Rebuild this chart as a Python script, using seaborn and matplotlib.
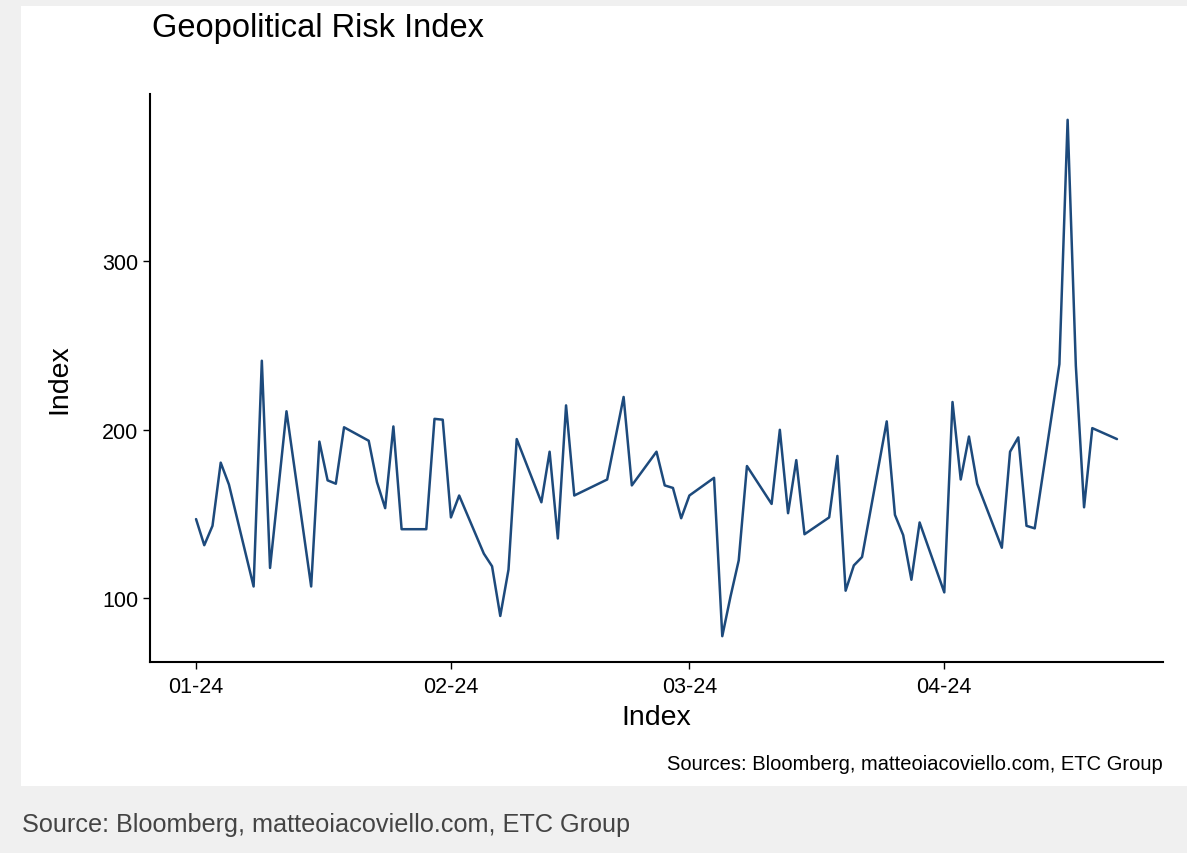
# Geopolitical Risk Index, daily, Jan-Apr 2024

import pandas as pd
import seaborn as sns
import matplotlib.pyplot as plt
import matplotlib.dates as mdates
from matplotlib.patches import Rectangle

# Data
dates = ['2024-01-01', '2024-01-02', '2024-01-03', '2024-01-04', '2024-01-05',
         '2024-01-08', '2024-01-09', '2024-01-10', '2024-01-12',
         '2024-01-15', '2024-01-16', '2024-01-17', '2024-01-18', '2024-01-19',
         '2024-01-22', '2024-01-23', '2024-01-24', '2024-01-25', '2024-01-26',
         '2024-01-29', '2024-01-30', '2024-01-31', '2024-02-01', '2024-02-02',
         '2024-02-05', '2024-02-06', '2024-02-07', '2024-02-08', '2024-02-09',
         '2024-02-12', '2024-02-13', '2024-02-14', '2024-02-15', '2024-02-16',
         '2024-02-20', '2024-02-22', '2024-02-23',
         '2024-02-26', '2024-02-27', '2024-02-28', '2024-02-29', '2024-03-01',
         '2024-03-04', '2024-03-05', '2024-03-06', '2024-03-07', '2024-03-08',
         '2024-03-11', '2024-03-12', '2024-03-13', '2024-03-14', '2024-03-15',
         '2024-03-18', '2024-03-19', '2024-03-20', '2024-03-21', '2024-03-22',
         '2024-03-25', '2024-03-26', '2024-03-27', '2024-03-28', '2024-03-29',
         '2024-04-01', '2024-04-02', '2024-04-03', '2024-04-04', '2024-04-05',
         '2024-04-08', '2024-04-09', '2024-04-10', '2024-04-11', '2024-04-12',
         '2024-04-15', '2024-04-16', '2024-04-17', '2024-04-18', '2024-04-19',
         '2024-04-22']
gpr = [147, 131.5, 143, 180.5, 167.5,
       107, 241, 118, 211,
       107, 193, 170, 168, 201.5,
       193.5, 169, 153.5, 202, 141,
       141, 206.5, 206, 148, 161,
       126.5, 119, 89.5, 117, 194.5,
       157, 187, 135.5, 214.5, 161,
       170.5, 219.5, 167,
       187, 167, 165.5, 147.5, 161,
       171.5, 77.5, 101, 122.5, 178.5,
       156, 200, 150.5, 182, 138,
       148, 184.5, 104.5, 119.5, 124.5,
       205, 149.5, 137.5, 111, 145,
       103.5, 216.5, 170.5, 196, 168,
       130, 187, 195.5, 143, 141.5,
       239, 384, 238, 154, 201,
       194.5]

title = 'Geopolitical Risk Index'
caption = 'Sources: Bloomberg, matteoiacoviello.com, ETC Group'
footer = 'Source: Bloomberg, matteoiacoviello.com, ETC Group'

df = pd.DataFrame({'date': pd.to_datetime(dates), 'gpr': gpr})

sns.set_style('ticks')
plt.rcParams['font.family'] = ['Liberation Sans', 'DejaVu Sans']
plt.rcParams['text.color'] = 'black'
plt.rcParams['axes.labelcolor'] = 'black'

W, H = 1187, 854
fig = plt.figure(figsize=(W / 100, H / 100), dpi=100, facecolor='#f0f0f0')

# white card behind the plot
card = Rectangle((21 / W, (H - 787) / H), 1 - 21 / W, 780 / H,
                 transform=fig.transFigure, facecolor='white',
                 edgecolor='none', zorder=0)
fig.add_artist(card)

ax = fig.add_axes([150 / W, (H - 663) / H, (1163 - 150) / W, (663 - 95) / H])
ax.set_zorder(2)
ax.set_facecolor('white')

sns.lineplot(data=df, x='date', y='gpr', ax=ax, color='#1d4a7c', linewidth=1.8)

# ggplot-like 5% expansion
span = df['date'].max() - df['date'].min()
ax.set_xlim(df['date'].min() - span * 0.05, df['date'].max() + span * 0.05)
rng = df['gpr'].max() - df['gpr'].min()
ax.set_ylim(df['gpr'].min() - rng * 0.05, df['gpr'].max() + rng * 0.05)

ax.xaxis.set_major_locator(mdates.MonthLocator())
ax.xaxis.set_major_formatter(mdates.DateFormatter('%m-%y'))
ax.set_yticks([100, 200, 300])

sns.despine(ax=ax)
for s in ['left', 'bottom']:
    ax.spines[s].set_linewidth(1.5)
    ax.spines[s].set_color('black')
ax.tick_params(axis='both', labelsize=15.5, length=5, width=1, colors='black',
               labelcolor='black')
ax.tick_params(axis='x', pad=5)

ax.set_xlabel('Index', fontsize=20.5, labelpad=5)
ax.set_ylabel('Index', fontsize=20.5, labelpad=21)

t = fig.text(152 / W, 1 - 28 / H, title, fontsize=23.5, va='center', ha='left')
t.set_zorder(3)
c = fig.text(1163 / W, 1 - 765 / H, caption, fontsize=14.5, va='center', ha='right')
c.set_zorder(3)
f = fig.text(22 / W, 1 - 825 / H, footer, fontsize=18.2, va='center', ha='left',
             color='#444444')
f.set_zorder(3)

fig.savefig('out.png', dpi=100, facecolor=fig.get_facecolor())
